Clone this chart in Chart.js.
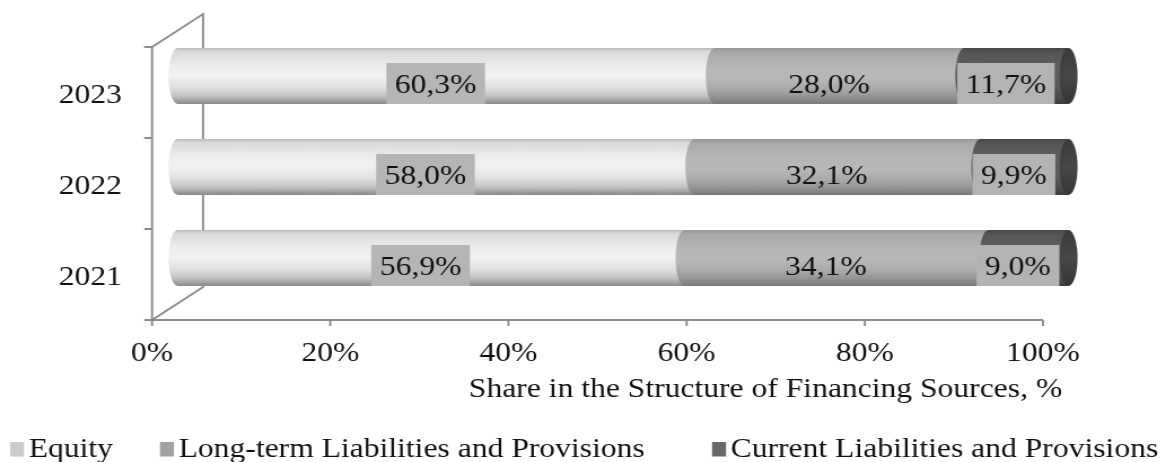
<!DOCTYPE html>
<html>
<head>
<meta charset="utf-8">
<script src="https://cdn.jsdelivr.net/npm/chart.js@4.4.1/dist/chart.umd.min.js"></script>
<style>
  html, body { margin: 0; background: #fff; }
  /* serif text in this figure runs a little wide, so the whole canvas is stretched sideways */
  #wrap { width: 1040px; height: 462px; transform: scaleX(1.1288); transform-origin: 0 0; }
</style>
</head>
<body>
<div id="wrap"><canvas id="chart" width="1040" height="462"></canvas></div>
<script>
const years = ['2021', '2022', '2023'];
const equity = [56.9, 58.0, 60.3];
const longTerm = [34.1, 32.1, 28.0];
const current = [9.0, 9.9, 11.7];
const seriesNames = ['Equity', 'Long-term Liabilities and Provisions', 'Current Liabilities and Provisions'];
const xTicks = [0, 20, 40, 60, 80, 100];
const axisTitle = 'Share in the Structure of Financing Sources, %';

const FONT = '"Liberation Serif", "Times New Roman", serif';
const depth = { dx: 22.6, dy: -16.5 };      // bars sit half way back in the box
const labelShift = { dx: 13.3, dy: -9 };
const capRx = 8;
const barPct = 0.615;

// vertical shading stops for each cylinder
const shades = [
  [[0, '#b9b9b9'], [0.06, '#d9d9d9'], [0.3, '#ececec'], [0.5, '#f1f1f1'], [0.7, '#e1e1e1'], [0.86, '#c2c2c2'], [0.95, '#9d9d9d'], [1, '#8a8a8a']],
  [[0, '#979797'], [0.08, '#a9a9a9'], [0.35, '#b6b6b6'], [0.55, '#b8b8b8'], [0.75, '#a7a7a7'], [0.9, '#8e8e8e'], [1, '#7a7a7a']],
  [[0, '#484848'], [0.1, '#575757'], [0.4, '#616161'], [0.7, '#5a5a5a'], [0.9, '#4a4a4a'], [1, '#3c3c3c']]
];
const endFace = [[0, '#3a3a3a'], [0.5, '#474747'], [1, '#353535']];

function cylFill(ctx, stops, top, h) {
  const g = ctx.createLinearGradient(0, top, 0, top + h);
  stops.forEach(([o, c]) => g.addColorStop(o, c));
  return g;
}

function barShade(idx) {
  return c => {
    const flat = shades[idx][3][1];
    const ys = c.chart.scales.y;
    if (!ys || c.type !== 'data') return flat;
    const band = Math.abs(ys.getPixelForValue(1) - ys.getPixelForValue(0));
    const h = band * barPct;
    const mid = ys.getPixelForValue(c.dataIndex);
    if (!isFinite(h) || !isFinite(mid) || h <= 0) return flat;
    return cylFill(c.chart.ctx, shades[idx], mid - h / 2, h);
  };
}

const fmt = v => v.toFixed(1).replace('.', ',') + '%';

const cylinders = {
  id: 'cylinders',
  beforeDatasetsDraw(chart) {
    const { ctx, chartArea: a } = chart;
    const bx = 2 * depth.dx, by = 2 * depth.dy;
    const band = (a.bottom - a.top) / years.length;
    ctx.save();
    ctx.strokeStyle = '#8c8c8c';
    ctx.lineWidth = 1.9;
    ctx.beginPath();
    // side wall
    ctx.moveTo(a.left, a.top);
    ctx.lineTo(a.left + bx, a.top + by);
    ctx.lineTo(a.left + bx, a.bottom + by);
    ctx.lineTo(a.left, a.bottom);
    // front axes
    ctx.moveTo(a.left, a.top);
    ctx.lineTo(a.left, a.bottom);
    ctx.lineTo(a.right, a.bottom);
    // tick marks
    xTicks.forEach(v => {
      const px = chart.scales.x.getPixelForValue(v);
      ctx.moveTo(px, a.bottom);
      ctx.lineTo(px, a.bottom + 6);
    });
    for (let k = 0; k <= years.length; k++) {
      ctx.moveTo(a.left - 7, a.top + k * band);
      ctx.lineTo(a.left, a.top + k * band);
    }
    ctx.stroke();
    ctx.restore();

    ctx.save();
    ctx.translate(depth.dx, depth.dy);
  },
  afterDatasetsDraw(chart) {
    const ctx = chart.ctx;
    const sets = chart.data.datasets;
    const last = sets.length - 1;
    sets.forEach((ds, i) => {
      chart.getDatasetMeta(i).data.forEach(bar => {
        const { x, y, base, height } = bar.getProps(['x', 'y', 'base', 'height'], true);
        const top = y - height / 2;
        // rounded start of each segment laps over the one before it
        ctx.fillStyle = cylFill(ctx, shades[i], top, height);
        ctx.beginPath();
        ctx.ellipse(base, y, capRx, height / 2, 0, Math.PI / 2, Math.PI * 1.5);
        ctx.lineTo(base + 2, top);
        ctx.lineTo(base + 2, top + height);
        ctx.closePath();
        ctx.fill();
        if (i === last) {
          ctx.fillStyle = cylFill(ctx, endFace, top, height);
          ctx.beginPath();
          ctx.ellipse(x, y, capRx, height / 2, 0, 0, Math.PI * 2);
          ctx.fill();
        }
      });
    });
    ctx.restore();

    // value labels
    const xs = chart.scales.x, ys = chart.scales.y;
    ctx.save();
    ctx.font = `28px ${FONT}`;
    ctx.textAlign = 'center';
    ctx.textBaseline = 'middle';
    sets.forEach((ds, i) => {
      ds.data.forEach((v, j) => {
        const start = sets.slice(0, i).reduce((s, d) => s + d.data[j], 0);
        const cx = xs.getPixelForValue(start + v / 2) + labelShift.dx;
        const cy = ys.getPixelForValue(j) + labelShift.dy;
        const txt = fmt(v);
        if (ds.labelBox) {
          const w = ctx.measureText(txt).width + 15;
          ctx.fillStyle = ds.labelBox;
          ctx.fillRect(cx - w / 2, cy - 20.5, w, 41);
        }
        ctx.fillStyle = '#111';
        ctx.fillText(txt, cx, cy + 2);
      });
    });
    ctx.restore();
  },
  afterDraw(chart) {
    const ctx = chart.ctx;
    const legendX = [8.9, 141.7, 630.8];
    ctx.save();
    ctx.font = `28px ${FONT}`;
    ctx.fillStyle = '#111';
    ctx.textBaseline = 'middle';
    ctx.textAlign = 'right';
    ctx.fillText(axisTitle, chart.chartArea.right + 17, 390);
    ctx.textAlign = 'left';
    chart.data.datasets.forEach((ds, i) => {
      ctx.fillStyle = ds.swatch;
      ctx.fillRect(legendX[i], 442, 12.4, 14.5);
      ctx.fillStyle = '#111';
      ctx.fillText(ds.label, legendX[i] + 16.5, 450);
    });
    ctx.restore();
  }
};

new Chart(document.getElementById('chart'), {
  type: 'bar',
  data: {
    labels: years,
    datasets: [
      { label: seriesNames[0], data: equity, backgroundColor: barShade(0), swatch: '#cbcbcb', labelBox: '#b5b5b5' },
      { label: seriesNames[1], data: longTerm, backgroundColor: barShade(1), swatch: '#a2a2a2', labelBox: null },
      { label: seriesNames[2], data: current, backgroundColor: barShade(2), swatch: '#6a6a6a', labelBox: '#b3b3b3' }
    ].map(d => Object.assign(d, { borderWidth: 0, barPercentage: barPct, categoryPercentage: 1, clip: false }))
  },
  options: {
    indexAxis: 'y',
    responsive: false,
    devicePixelRatio: 1,
    animation: false,
    events: [],
    layout: { padding: { top: 47, right: 116, bottom: 0, left: 0 } },
    plugins: { legend: { display: false }, tooltip: { enabled: false } },
    scales: {
      x: {
        stacked: true,
        min: 0,
        max: 100,
        afterBuildTicks: s => { s.ticks = xTicks.map(v => ({ value: v })); },
        grid: { display: false, drawTicks: false },
        border: { display: false },
        ticks: { callback: v => v + '%', color: '#111', font: { family: FONT, size: 28 }, padding: 17, maxRotation: 0 },
        afterFit: s => { s.height = 142; }
      },
      y: {
        stacked: true,
        reverse: true,
        grid: { display: false, drawTicks: false },
        border: { display: false },
        ticks: { color: '#111', font: { family: FONT, size: 28 }, padding: 26.6, labelOffset: 3 },
        afterFit: s => { s.width = 134.7; }
      }
    }
  },
  plugins: [cylinders]
});
</script>
</body>
</html>
